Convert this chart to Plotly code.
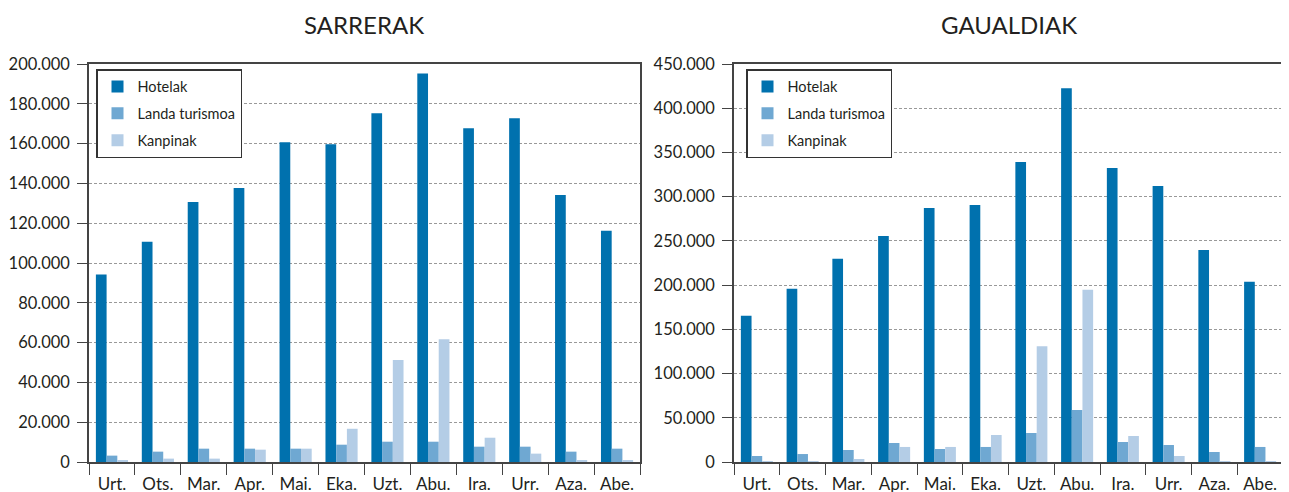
import plotly.graph_objects as go

months = ['Urt.', 'Ots.', 'Mar.', 'Apr.', 'Mai.', 'Eka.', 'Uzt.', 'Abu.', 'Ira.', 'Urr.', 'Aza.', 'Abe.']

# SARRERAK
sarr_hotelak = [94200, 110700, 130700, 137700, 160700, 159700, 175200, 195200, 167700, 172700, 134200, 116200]
sarr_landa = [3200, 5200, 6700, 6700, 6700, 8700, 10200, 10200, 7700, 7700, 5200, 6700]
sarr_kanpinak = [700, 1700, 1700, 6200, 6700, 16700, 51200, 61700, 12200, 4200, 700, 700]

# GAUALDIAK
gau_hotelak = [165400, 195900, 229700, 255600, 287200, 290600, 339100, 422600, 332300, 312000, 239800, 203800]
gau_landa = [6800, 9000, 13600, 21500, 14700, 17000, 32800, 58800, 22600, 19200, 11300, 17000]
gau_kanpinak = [700, 1000, 3400, 17000, 17000, 30500, 131000, 194700, 29400, 6800, 1000, 1000]

series_names = ['Hotelak', 'Landa turismoa', 'Kanpinak']
colors = ['#0071ae', '#6fa8d2', '#b4cde6']

# the page body has an 8px margin, so positions are taken 8px up/left of the screen ones
OFF = 8
W, H = 1289 - OFF, 492 - OFF
T, B = 64 - OFF, 30
FONT = 'Lato'
TXT = '#231f20'

fig = go.Figure()

for vals, name, col in zip([sarr_hotelak, sarr_landa, sarr_kanpinak], series_names, colors):
    fig.add_trace(go.Bar(x=months, y=vals, name=name, marker_color=col, marker_line_width=0,
                         xaxis='x', yaxis='y', legend='legend', legendgroup='l' + name))

for vals, name, col in zip([gau_hotelak, gau_landa, gau_kanpinak], series_names, colors):
    fig.add_trace(go.Bar(x=months, y=vals, name=name, marker_color=col, marker_line_width=0,
                         xaxis='x2', yaxis='y2', legend='legend2', legendgroup='r' + name))

xa = dict(type='category', showline=True, linecolor='#444', linewidth=1.5, mirror=True,
          ticks='outside', tickson='boundaries', ticklen=11, tickcolor='#444', automargin=False,
          ticklabelstandoff=6,
          tickfont=dict(size=17, color=TXT, family=FONT), showgrid=False)
ya = dict(showline=True, linecolor='#444', linewidth=1.5, mirror=True, automargin=False,
          ticks='outside', ticklen=10, tickcolor='#444', tickformat=',d', ticklabelstandoff=4,
          tickfont=dict(size=16.5, color=TXT, family=FONT),
          showgrid=True, gridcolor='#999', griddash='3px,2px', gridwidth=1, zeroline=False)

x1 = [(89 - OFF) / W, (640 - OFF) / W]
x2 = [(734 - OFF) / W, (1283 - OFF) / W]
ph = H - T - B

leg = dict(bgcolor='white', bordercolor='#333', borderwidth=1.5,
           font=dict(size=14.5, color=TXT, family=FONT), traceorder='grouped',
           tracegroupgap=5, xanchor='left', yanchor='top', itemwidth=30)

title_y = (H - B - (25 - OFF)) / ph

fig.update_layout(
    width=W, height=H,
    margin=dict(l=0, r=0, t=T, b=B, autoexpand=False),
    paper_bgcolor='white', plot_bgcolor='white',
    separators=',.',
    barmode='group', bargap=0.3, bargroupgap=0,
    font=dict(family=FONT, color=TXT),
    xaxis=dict(xa, domain=x1, anchor='y'),
    yaxis=dict(ya, range=[0, 200000], dtick=20000, anchor='x'),
    xaxis2=dict(xa, domain=x2, anchor='y2'),
    yaxis2=dict(ya, range=[0, 450000], dtick=50000, anchor='x2'),
    legend=dict(leg, x=(96 - OFF) / W, y=1 - 5 / ph),
    legend2=dict(leg, x=(746 - OFF) / W, y=1 - 5 / ph),
    annotations=[
        dict(text='SARRERAK', x=(x1[0] + x1[1]) / 2, y=title_y, xref='paper', yref='paper',
             xanchor='center', yanchor='middle', showarrow=False,
             font=dict(size=24, color=TXT, family=FONT)),
        dict(text='GAUALDIAK', x=(x2[0] + x2[1]) / 2, y=title_y, xref='paper', yref='paper',
             xanchor='center', yanchor='middle', showarrow=False,
             font=dict(size=24, color=TXT, family=FONT)),
    ],
)

fig.write_html("out.html")
